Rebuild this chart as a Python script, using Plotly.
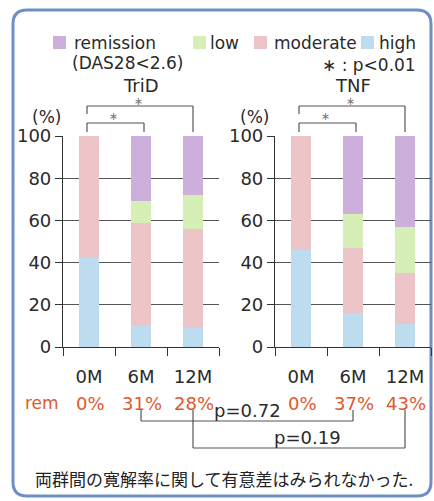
import plotly.graph_objects as go

# ---------------- data ----------------
months = ["0M", "6M", "12M"]
groups = ["TriD", "TNF"]
series_names = ["high", "moderate", "low", "remission"]
trid_high = [42, 10, 9]
trid_moderate = [58, 49, 47]
trid_low = [0, 10, 16]
trid_remission = [0, 31, 28]
tnf_high = [46, 16, 11]
tnf_moderate = [54, 31, 24]
tnf_low = [0, 16, 22]
tnf_remission = [0, 37, 43]
rem_labels_trid = ["0%", "31%", "28%"]
rem_labels_tnf = ["0%", "37%", "43%"]
y_ticks = [0, 20, 40, 60, 80, 100]
p_between = ["p=0.72", "p=0.19"]
legend_labels = ["remission<br>(DAS28<2.6)", "low", "moderate", "high"]

colors = {"high": "#bddcf0", "moderate": "#edc5c8", "low": "#d6efb6", "remission": "#cdafdb"}

W, H = 434, 501
FONT = "DejaVu Sans"
TXT = "#2a2a2a"
REM_C = "#dc5a2c"


def px(x):
    return x / W


def py(y):
    return 1 - y / H


dom1 = [px(63), px(219)]
dom2 = [px(275), px(431)]
ydom = [py(347), py(136)]


def cx(dom, i):
    return dom[0] + (i + 0.5) / len(months) * (dom[1] - dom[0])


fig = go.Figure()
data = {
    "TriD": [trid_high, trid_moderate, trid_low, trid_remission],
    "TNF": [tnf_high, tnf_moderate, tnf_low, tnf_remission],
}
for g, (xa, ya) in zip(groups, [("x", "y"), ("x2", "y2")]):
    for name, vals in zip(series_names, data[g]):
        fig.add_trace(go.Bar(x=months, y=vals, name=name, marker_color=colors[name],
                             marker_line_width=0, width=0.4, xaxis=xa, yaxis=ya,
                             showlegend=False))

axis_common = dict(type="category", categoryorder="array", categoryarray=months,
                   tickson="boundaries", ticks="outside", ticklen=8, tickcolor="#333",
                   showline=True, linecolor="#333", linewidth=1.2, showgrid=False,
                   tickfont=dict(family=FONT, size=18, color=TXT), ticklabelstandoff=13,
                   range=[-0.5, 2.5], fixedrange=True, automargin=False)
yaxis_common = dict(range=[0, 100], tickvals=y_ticks, ticks="outside", ticklen=7,
                    tickcolor="#333", showline=True, linecolor="#333", linewidth=1.2,
                    showgrid=True, gridcolor="#555", gridwidth=1, zeroline=False,
                    tickfont=dict(family=FONT, size=18, color=TXT), domain=ydom,
                    fixedrange=True, automargin=False)

fig.update_layout(
    width=W, height=H, margin=dict(l=0, r=0, t=0, b=0, pad=0, autoexpand=False),
    paper_bgcolor="white", plot_bgcolor="white", barmode="stack", bargap=0.6,
    xaxis=dict(domain=dom1, anchor="y", **axis_common),
    yaxis=dict(anchor="x", **yaxis_common),
    xaxis2=dict(domain=dom2, anchor="y2", **axis_common),
    yaxis2=dict(anchor="x2", **yaxis_common),
    showlegend=False,
)

ann = []
shapes = []


def text(x, y, s, size=17, color=TXT, xanchor="center", family=FONT):
    ann.append(dict(x=px(x), y=py(y), xref="paper", yref="paper", text=s, showarrow=False,
                    xanchor=xanchor, yanchor="middle",
                    font=dict(family=family, size=size, color=color)))


def line(x0, y0, x1, y1, color="#555", width=1.2):
    shapes.append(dict(type="line", xref="paper", yref="paper", x0=x0, y0=y0, x1=x1, y1=y1,
                       line=dict(color=color, width=width)))


# frame (rounded rectangle)
l, t, r, b, rad = 13, 10, 431, 496, 14
path = (f"M {px(l+rad)},{py(t)} L {px(r-rad)},{py(t)} Q {px(r)},{py(t)} {px(r)},{py(t+rad)} "
        f"L {px(r)},{py(b-rad)} Q {px(r)},{py(b)} {px(r-rad)},{py(b)} "
        f"L {px(l+rad)},{py(b)} Q {px(l)},{py(b)} {px(l)},{py(b-rad)} "
        f"L {px(l)},{py(t+rad)} Q {px(l)},{py(t)} {px(l+rad)},{py(t)} Z")
shapes.append(dict(type="path", xref="paper", yref="paper", path=path,
                   line=dict(color="#6f8fc4", width=3), layer="below"))

# legend
leg_items = [("remission", 53, 72), ("low", 193, 208), ("moderate", 254, 272), ("high", 361, 377)]
for (name, sx, tx), lab in zip(leg_items, legend_labels):
    shapes.append(dict(type="rect", xref="paper", yref="paper", x0=px(sx), x1=px(sx + 13),
                       y0=py(49), y1=py(36), fillcolor=colors[name], line=dict(width=0)))
    if "<br>" in lab:
        a, bb = lab.split("<br>")
        text(tx, 43, a, size=17, xanchor="left")
        text(tx - 2, 63, bb, size=17, xanchor="left")
    else:
        text(tx, 43, lab, size=17, xanchor="left")
text(418, 65, "∗ : p<0.01", size=17, xanchor="right")

# titles and (%) labels
for g, dom, pct_x in zip(groups, [dom1, dom2], [46, 254]):
    text(cx(dom, 1) * W, 85, g, size=18)
    text(pct_x, 117, "(%)", size=17)

# significance brackets above bars
for dom in [dom1, dom2]:
    x0 = cx(dom, 0) * W - 2
    x1 = cx(dom, 1) * W + 3
    x2 = cx(dom, 2) * W
    # outer 0M-12M
    line(px(x0), py(106), px(x2), py(106))
    line(px(x0), py(106), px(x0), py(114))
    line(px(x2), py(106), px(x2), py(132))
    text((x0 + x2) / 2 - 2, 101, "∗", size=11, color="#777")
    # inner 0M-6M
    line(px(x0), py(123), px(x1), py(123))
    line(px(x0), py(123), px(x0), py(132))
    line(px(x1), py(123), px(x1), py(132))
    text((x0 + x1) / 2 - 2, 117, "∗", size=11, color="#777")

# remission row
text(42, 403, "rem", size=17, color=REM_C)
for dom, labs in zip([dom1, dom2], [rem_labels_trid, rem_labels_tnf]):
    for i, s in enumerate(labs):
        text(cx(dom, i) * W + 1, 403, s, size=18, color=REM_C)

# between-group brackets
a6, b6 = cx(dom1, 1) * W, cx(dom2, 1) * W
a12, b12 = cx(dom1, 2) * W, cx(dom2, 2) * W
line(px(a6), py(410), px(a6), py(421))
line(px(a6), py(421), px(b6), py(421))
line(px(b6), py(421), px(b6), py(410))
text(247, 410, p_between[0], size=18)
line(px(a12), py(410), px(a12), py(448))
line(px(a12), py(448), px(b12), py(448))
line(px(b12), py(448), px(b12), py(410))
text(307, 437, p_between[1], size=18)

# footer
text(224, 478, "両群間の寛解率に関して有意差はみられなかった.", size=17,
     family="Noto Sans CJK JP", color="#222")

fig.update_layout(annotations=ann, shapes=shapes)
fig.write_html("out.html", config={"displayModeBar": False},
               post_script="document.body.style.margin='0';document.body.style.overflow='hidden';")
